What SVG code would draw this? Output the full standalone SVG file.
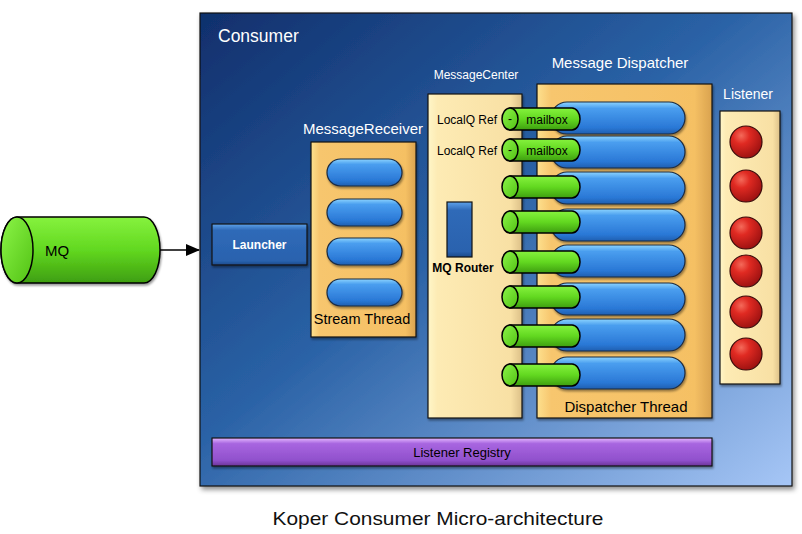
<svg xmlns="http://www.w3.org/2000/svg" width="802" height="534" viewBox="0 0 802 534">
<defs>
<linearGradient id="gConsumer" x1="0" y1="0" x2="1" y2="1">
<stop offset="0" stop-color="#102f6c"/><stop offset="0.45" stop-color="#2a62a6"/><stop offset="1" stop-color="#a6c6f6"/>
</linearGradient>
<linearGradient id="gOrange" x1="0" y1="0" x2="1" y2="0">
<stop offset="0" stop-color="#fde08e"/><stop offset="0.08" stop-color="#f7c66e"/><stop offset="0.9" stop-color="#f5c064"/><stop offset="1" stop-color="#d9a24e"/>
</linearGradient>
<linearGradient id="gCream" x1="0" y1="0" x2="1" y2="0">
<stop offset="0" stop-color="#fff6c8"/><stop offset="0.1" stop-color="#fdebb4"/><stop offset="0.88" stop-color="#f8e0a4"/><stop offset="1" stop-color="#dcc088"/>
</linearGradient>
<linearGradient id="gBlue" x1="0" y1="0" x2="0" y2="1">
<stop offset="0" stop-color="#8cd4ff"/><stop offset="0.2" stop-color="#4a9eef"/><stop offset="0.8" stop-color="#2a78d6"/><stop offset="1" stop-color="#1f5fb0"/>
</linearGradient>
<linearGradient id="gBlueBox" x1="0" y1="0" x2="0" y2="1">
<stop offset="0" stop-color="#5ea2ea"/><stop offset="0.15" stop-color="#2f6ab8"/><stop offset="0.9" stop-color="#2a62ae"/><stop offset="1" stop-color="#1a4a8a"/>
</linearGradient>
<linearGradient id="gGreen" x1="0" y1="0" x2="0" y2="1">
<stop offset="0" stop-color="#86f23e"/><stop offset="0.5" stop-color="#62d820"/><stop offset="1" stop-color="#3e9e10"/>
</linearGradient>
<linearGradient id="gGreenEnd" x1="0" y1="0" x2="1" y2="1">
<stop offset="0" stop-color="#8cf548"/><stop offset="1" stop-color="#52c214"/>
</linearGradient>
<linearGradient id="gPurple" x1="0" y1="0" x2="0" y2="1">
<stop offset="0" stop-color="#e4b8ff"/><stop offset="0.2" stop-color="#a866e0"/><stop offset="0.8" stop-color="#9050cc"/><stop offset="1" stop-color="#6a3498"/>
</linearGradient>
<radialGradient id="gRed" cx="0.35" cy="0.3" r="0.75">
<stop offset="0" stop-color="#f46a5a"/><stop offset="0.35" stop-color="#e02a22"/><stop offset="1" stop-color="#9a1010"/>
</radialGradient>
<filter id="shadow" x="-5%" y="-5%" width="115%" height="115%">
<feDropShadow dx="2" dy="3" stdDeviation="2.5" flood-color="#000" flood-opacity="0.45"/>
</filter>
<filter id="sm" x="-10%" y="-10%" width="130%" height="140%">
<feDropShadow dx="1" dy="2" stdDeviation="1.2" flood-color="#000" flood-opacity="0.4"/>
</filter>
<marker id="arrow" markerWidth="14" markerHeight="12" refX="13" refY="6" orient="auto" markerUnits="userSpaceOnUse">
<path d="M0,0 L14,6 L0,12 Z" fill="#000"/>
</marker>
<g id="pillBlue"><rect x="0" y="0" width="134" height="32" rx="16" ry="16" fill="url(#gBlue)" stroke="#1c2a40" stroke-width="1.2" filter="url(#sm)"/></g>
<g id="pillRecv"><rect x="0" y="0" width="75" height="27" rx="13.5" ry="13.5" fill="url(#gBlue)" stroke="#1c2a40" stroke-width="1.2" filter="url(#sm)"/></g>
<g id="cylSmall">
<path d="M8,-11 H70 A8,11 0 0 1 70,11 H8 Z" fill="url(#gGreen)" stroke="#000" stroke-width="1.5"/>
<ellipse cx="8" cy="0" rx="8" ry="11" fill="url(#gGreenEnd)" stroke="#000" stroke-width="1.5"/>
</g>
<g id="ball"><circle cx="0" cy="0" r="16" fill="url(#gRed)" stroke="#3a0a0a" stroke-width="1.2"/></g>
</defs>
<style>
text{font-family:"Liberation Sans",Arial,Helvetica,sans-serif;}
.w{fill:#fff;}
.k{fill:#000;}
.frame{stroke:#111;stroke-width:1.2;}
</style>
<rect x="0" y="0" width="802" height="534" fill="#fff"/>

<g id="consumer">
<rect x="200" y="13" width="592" height="473" fill="url(#gConsumer)" class="frame" filter="url(#shadow)"/>
<text x="218" y="42" font-size="17.5" class="w">Consumer</text>
</g>

<g id="mq">
<path d="M17,217 H144 A16,33 0 0 1 144,283 H17 A16,33 0 0 1 17,217 Z" fill="url(#gGreen)" stroke="#000" stroke-width="1.5" filter="url(#sm)"/>
<ellipse cx="17" cy="250" rx="16" ry="33" fill="url(#gGreenEnd)" stroke="#000" stroke-width="1.5"/>
<text x="45" y="256" font-size="15" class="k">MQ</text>
</g>

<g id="connectors">
<line x1="160" y1="250" x2="199" y2="250" stroke="#000" stroke-width="1.5" marker-end="url(#arrow)"/>
</g>

<g id="launcher">
<rect x="212" y="224" width="95" height="41" fill="url(#gBlueBox)" class="frame" filter="url(#sm)"/>
<text x="259.5" y="249" font-size="12" font-weight="bold" text-anchor="middle" class="w">Launcher</text>
</g>

<g id="messageReceiver">
<text x="363" y="134" font-size="15" text-anchor="middle" class="w">MessageReceiver</text>
<rect x="311" y="142" width="105" height="195" fill="url(#gOrange)" class="frame" filter="url(#sm)"/>
<use href="#pillRecv" x="327" y="159"/>
<use href="#pillRecv" x="327" y="199"/>
<use href="#pillRecv" x="327" y="238"/>
<use href="#pillRecv" x="327" y="279"/>
<text x="362" y="324" font-size="14.5" text-anchor="middle" class="k">Stream Thread</text>
</g>

<g id="messageCenter">
<text x="476" y="79" font-size="12" text-anchor="middle" class="w">MessageCenter</text>
<rect x="428" y="94" width="94" height="324" fill="url(#gCream)" class="frame" filter="url(#sm)"/>
<text x="437" y="124" font-size="12" class="k">LocalQ Ref</text>
<text x="437" y="155" font-size="12" class="k">LocalQ Ref</text>
</g>

<g id="mqRouter">
<rect x="447" y="202" width="25" height="55" fill="url(#gBlueBox)" class="frame"/>
<text x="463" y="272" font-size="12" font-weight="bold" text-anchor="middle" class="k">MQ Router</text>
</g>

<g id="messageDispatcher">
<text x="620" y="68" font-size="15" text-anchor="middle" class="w">Message Dispatcher</text>
<rect x="537" y="84" width="175" height="334" fill="url(#gOrange)" class="frame" filter="url(#sm)"/>
<use href="#pillBlue" x="551" y="102"/>
<use href="#pillBlue" x="551" y="136"/>
<use href="#pillBlue" x="551" y="172"/>
<use href="#pillBlue" x="551" y="209"/>
<use href="#pillBlue" x="551" y="245"/>
<use href="#pillBlue" x="551" y="283"/>
<use href="#pillBlue" x="551" y="319"/>
<use href="#pillBlue" x="551" y="357"/>
<text x="626" y="412" font-size="15" text-anchor="middle" class="k">Dispatcher Thread</text>
</g>

<g id="mailboxes">
<use href="#cylSmall" x="502" y="119"/>
<use href="#cylSmall" x="502" y="150"/>
<use href="#cylSmall" x="502" y="187"/>
<use href="#cylSmall" x="502" y="222"/>
<use href="#cylSmall" x="502" y="262"/>
<use href="#cylSmall" x="502" y="297"/>
<use href="#cylSmall" x="502" y="336"/>
<use href="#cylSmall" x="502" y="375"/>
<text x="510" y="123" font-size="12" text-anchor="middle" class="k">-</text>
<text x="547" y="123.5" font-size="12" text-anchor="middle" class="k">mailbox</text>
<text x="510" y="154" font-size="12" text-anchor="middle" class="k">-</text>
<text x="547" y="154.5" font-size="12" text-anchor="middle" class="k">mailbox</text>
</g>

<g id="listener">
<text x="748" y="99" font-size="14" text-anchor="middle" class="w">Listener</text>
<rect x="720" y="111" width="60" height="273" fill="url(#gCream)" class="frame" filter="url(#sm)"/>
<use href="#ball" x="746" y="142"/>
<use href="#ball" x="746" y="186"/>
<use href="#ball" x="746" y="233"/>
<use href="#ball" x="746" y="271"/>
<use href="#ball" x="746" y="312"/>
<use href="#ball" x="746" y="354"/>
</g>

<g id="listenerRegistry">
<rect x="212" y="438" width="500" height="28" fill="url(#gPurple)" class="frame" filter="url(#sm)"/>
<text x="462" y="457" font-size="13" text-anchor="middle" class="k">Listener Registry</text>
</g>

<g id="caption">
<text x="438" y="525" font-size="19" text-anchor="middle" fill="#111" textLength="331" lengthAdjust="spacingAndGlyphs">Koper Consumer Micro-architecture</text>
</g>
</svg>
